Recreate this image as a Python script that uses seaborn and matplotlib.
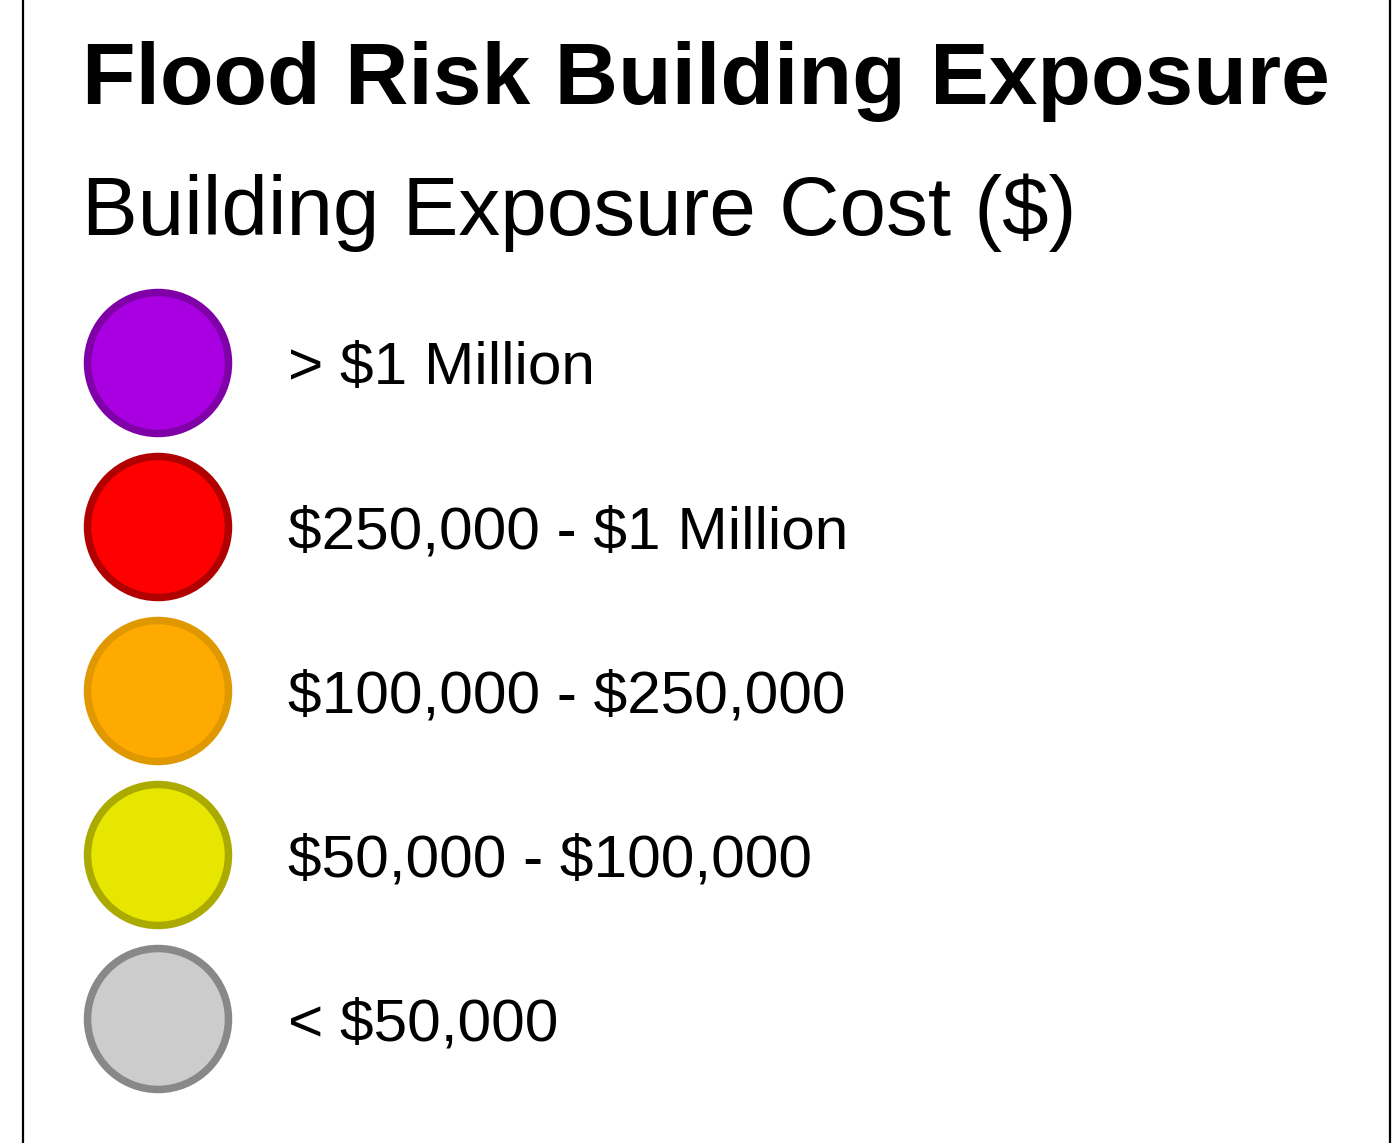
import matplotlib
matplotlib.use("Agg")
import matplotlib.pyplot as plt
import matplotlib.transforms as mtransforms
from matplotlib.lines import Line2D
import seaborn as sns
import pandas as pd

# legend classes, top to bottom
classes = ['> $1 Million', '$250,000 - $1 Million', '$100,000 - $250,000',
           '$50,000 - $100,000', '< $50,000']
fill_colors = ['#A800E0', '#FF0000', '#FFAA00', '#E6E600', '#CCCCCC']
edge_colors = ['#8000A8', '#B00000', '#E09800', '#AAAA00', '#888888']

title = 'Flood Risk Building Exposure'
subtitle = 'Building Exposure Cost ($)'

df = pd.DataFrame({'cls': classes, 'row': range(len(classes)), 'col': 0})

sns.set_style('white')
plt.rcParams['font.family'] = ['Liberation Sans', 'DejaVu Sans']

W, H = 1394, 1143
fig = plt.figure(figsize=(W / 100, H / 100), dpi=100)
ax = fig.add_axes([0, 0, 1, 1])

ax = sns.scatterplot(data=df, x='col', y='row', hue='cls', palette=fill_colors,
                     s=10300, linewidth=0, legend=False, ax=ax)
coll = ax.collections[0]
coll.set_edgecolors([edge_colors[i] for i in df['row']])
coll.set_facecolors([fill_colors[i] for i in df['row']])
coll.set_linewidths(5.4)

# map rows to pixel layout: first centre at 363 px, step 164 px
step = 164.0
top = -363.0 / step
ax.set_ylim(top + H / step, top)
ax.set_xlim(-158.0 / step, (W - 158.0) / step)
ax.axis('off')

# labels next to circles
trans = mtransforms.blended_transform_factory(fig.transFigure, ax.transData)
offset = mtransforms.ScaledTranslation(0, -15.3 / 72, fig.dpi_scale_trans)
for i, lab in enumerate(classes):
    ax.text(288 / W, i, lab, fontsize=43.5, ha='left', va='baseline',
            transform=trans + offset, color='black', parse_math=False)

fig.text(82 / W, 1 - 104 / H, title, fontsize=63.2, fontweight='bold',
         ha='left', va='baseline', color='black', parse_math=False)
fig.text(82 / W, 1 - 235 / H, subtitle, fontsize=60.2, ha='left',
         va='baseline', color='black', parse_math=False)

# frame lines on left and right
for xp in (23, 1390):
    fig.add_artist(Line2D([xp / W, xp / W], [0, 1], color='black',
                          linewidth=1.6, transform=fig.transFigure))

fig.savefig('out.png', dpi=100, facecolor='white')
